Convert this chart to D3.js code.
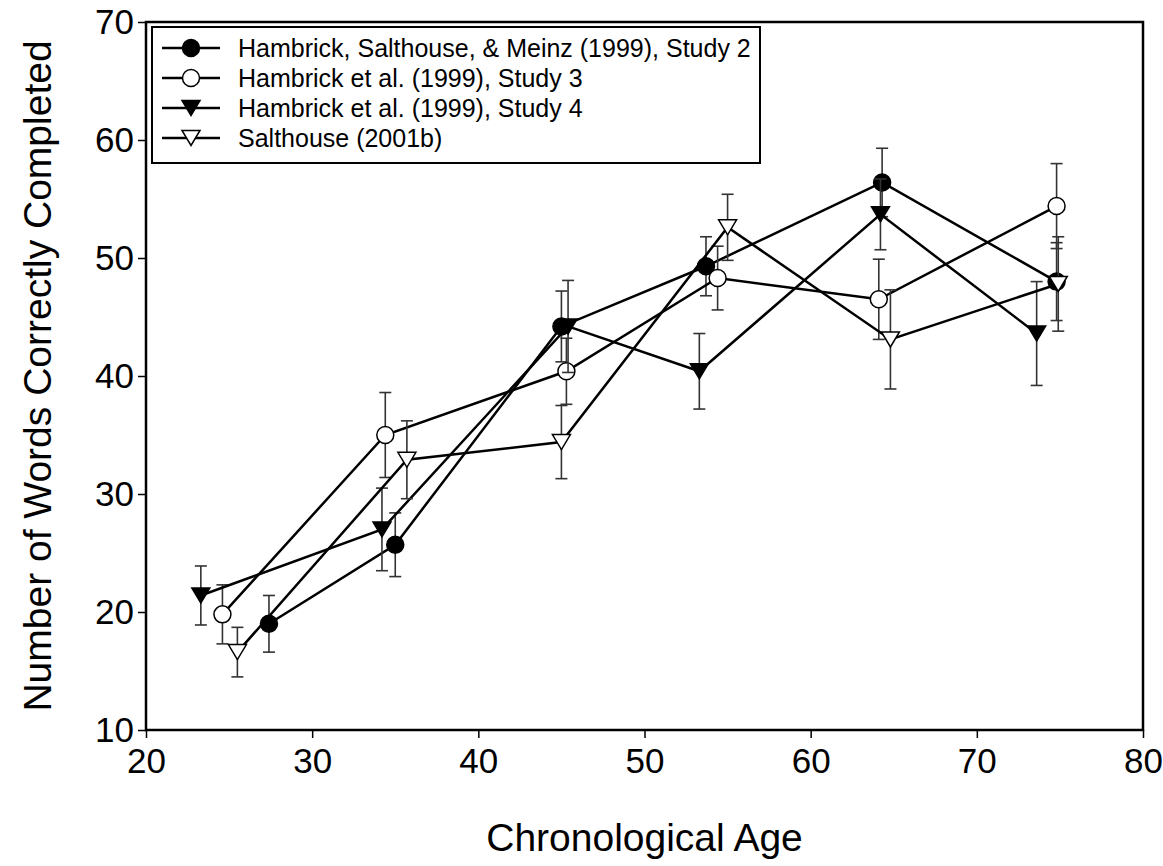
<!DOCTYPE html>
<html>
<head>
<meta charset="utf-8">
<script src="https://cdnjs.cloudflare.com/ajax/libs/d3/7.8.5/d3.min.js"></script>
<style>
  body { margin: 0; background: #fff; }
  text { font-family: "Liberation Sans", Arial, sans-serif; fill: #000; }
</style>
</head>
<body>
<div id="chart-area"></div>
<script>
// series names (legend order)
var seriesNames = [
  "Hambrick, Salthouse, & Meinz (1999), Study 2",
  "Hambrick et al. (1999), Study 3",
  "Hambrick et al. (1999), Study 4",
  "Salthouse (2001b)"
];

// Study 2 (filled circle)
var s1Age  = [27.4, 35.0, 45.0, 53.7, 64.3, 74.8];
var s1Mean = [19.0, 25.7, 44.2, 49.3, 56.4, 48.0];
var s1Err  = [2.4, 2.7, 3.0, 2.5, 2.9, 3.3];

// Study 3 (open circle)
var s2Age  = [24.6, 34.4, 45.3, 54.4, 64.1, 74.8];
var s2Mean = [19.8, 35.0, 40.4, 48.3, 46.5, 54.4];
var s2Err  = [2.5, 3.6, 2.8, 2.7, 3.4, 3.6];

// Study 4 (filled triangle)
var s3Age  = [23.3, 34.2, 45.4, 53.3, 64.2, 73.6];
var s3Mean = [21.4, 27.0, 44.2, 40.4, 53.7, 43.6];
var s3Err  = [2.5, 3.5, 3.9, 3.2, 3.0, 4.4];

// Salthouse 2001b (open triangle)
var s4Age  = [25.5, 35.7, 45.0, 55.0, 64.8, 74.9];
var s4Mean = [16.6, 32.9, 34.4, 52.6, 43.1, 47.8];
var s4Err  = [2.1, 3.3, 3.1, 2.8, 4.2, 4.0];

var xTicks = [20, 30, 40, 50, 60, 70, 80];
var yTicks = [10, 20, 30, 40, 50, 60, 70];

var margin = {left: 146, right: 20, top: 22, bottom: 136};
var width = 1163 - margin.left - margin.right;
var height = 866 - margin.top - margin.bottom;

var svg = d3.select("#chart-area").append("svg")
    .attr("width", 1163)
    .attr("height", 866);

var g = svg.append("g")
    .attr("transform", "translate(" + margin.left + "," + margin.top + ")");

var x = d3.scaleLinear().domain([20, 80]).range([0, width]);
var y = d3.scaleLinear().domain([10, 70]).range([height, 0]);

// axes
var xAxisCall = d3.axisBottom(x).tickValues(xTicks).tickSize(8).tickPadding(10);
var yAxisCall = d3.axisLeft(y).tickValues(yTicks).tickSize(8).tickPadding(4);

var xAxisGroup = g.append("g")
    .attr("transform", "translate(0," + height + ")")
    .call(xAxisCall);
var yAxisGroup = g.append("g").call(yAxisCall);

[xAxisGroup, yAxisGroup].forEach(a => {
  a.select(".domain").remove();
  a.selectAll("line").attr("stroke", "#000").attr("stroke-width", 1.5);
  a.selectAll("text")
    .style("font-family", "'Liberation Sans', Arial, sans-serif")
    .attr("font-size", "35px")
    .attr("fill", "#000");
});

// frame
g.append("rect")
    .attr("width", width)
    .attr("height", height)
    .attr("fill", "none")
    .attr("stroke", "#000")
    .attr("stroke-width", 2.5);

// labels
g.append("text")
    .attr("x", width / 2)
    .attr("y", height + 121)
    .attr("font-size", "39px")
    .attr("text-anchor", "middle")
    .text("Chronological Age");

g.append("text")
    .attr("x", -(height / 2))
    .attr("y", -95)
    .attr("font-size", "39px")
    .attr("text-anchor", "middle")
    .attr("transform", "rotate(-90)")
    .text("Number of Words Correctly Completed");

// markers
var triDown = "M-9,-7.5L9,-7.5L0,7.5Z";

var seriesDefs = [
  {age: s1Age, mean: s1Mean, err: s1Err, shape: "circle", fill: "#000"},
  {age: s2Age, mean: s2Mean, err: s2Err, shape: "circle", fill: "#fff"},
  {age: s3Age, mean: s3Mean, err: s3Err, shape: "tri", fill: "#000"},
  {age: s4Age, mean: s4Mean, err: s4Err, shape: "tri", fill: "#fff"}
];

function drawMarker(sel, def) {
  if (def.shape === "circle") {
    sel.append("circle")
      .attr("r", 8.5)
      .attr("fill", def.fill)
      .attr("stroke", "#000")
      .attr("stroke-width", 1.5);
  } else {
    sel.append("path")
      .attr("d", triDown)
      .attr("fill", def.fill)
      .attr("stroke", "#000")
      .attr("stroke-width", 1.5);
  }
}

var line = d3.line()
  .x(d => x(d.age))
  .y(d => y(d.mean));

seriesDefs.forEach(def => {
  var data = def.age.map((a, i) => ({age: a, mean: def.mean[i], err: def.err[i]}));
  var sg = g.append("g");

  // error bars
  var eb = sg.selectAll(".eb").data(data).enter().append("g")
    .attr("stroke", "#333")
    .attr("stroke-width", 1.6);
  eb.append("line")
    .attr("x1", d => x(d.age)).attr("x2", d => x(d.age))
    .attr("y1", d => y(d.mean - d.err)).attr("y2", d => y(d.mean + d.err));
  eb.append("line")
    .attr("x1", d => x(d.age) - 6).attr("x2", d => x(d.age) + 6)
    .attr("y1", d => y(d.mean + d.err)).attr("y2", d => y(d.mean + d.err));
  eb.append("line")
    .attr("x1", d => x(d.age) - 6).attr("x2", d => x(d.age) + 6)
    .attr("y1", d => y(d.mean - d.err)).attr("y2", d => y(d.mean - d.err));

  sg.append("path")
    .datum(data)
    .attr("d", line)
    .attr("fill", "none")
    .attr("stroke", "#000")
    .attr("stroke-width", 2.5);

  sg.selectAll(".pt").data(data).enter().append("g")
    .attr("transform", d => "translate(" + x(d.age) + "," + y(d.mean) + ")")
    .each(function() { drawMarker(d3.select(this), def); });
});

// legend
var legend = svg.append("g").attr("transform", "translate(152,27)");
legend.append("rect")
    .attr("width", 608)
    .attr("height", 136)
    .attr("fill", "#fff")
    .attr("stroke", "#000")
    .attr("stroke-width", 2);

seriesNames.forEach((name, i) => {
  var row = legend.append("g").attr("transform", "translate(0," + (21 + i * 30) + ")");
  row.append("line")
    .attr("x1", 10).attr("x2", 68)
    .attr("stroke", "#000").attr("stroke-width", 2.5);
  var m = row.append("g").attr("transform", "translate(39,0)");
  drawMarker(m, seriesDefs[i]);
  row.append("text")
    .attr("x", 86)
    .attr("y", 9)
    .attr("font-size", "25px")
    .text(name);
});
</script>
</body>
</html>
